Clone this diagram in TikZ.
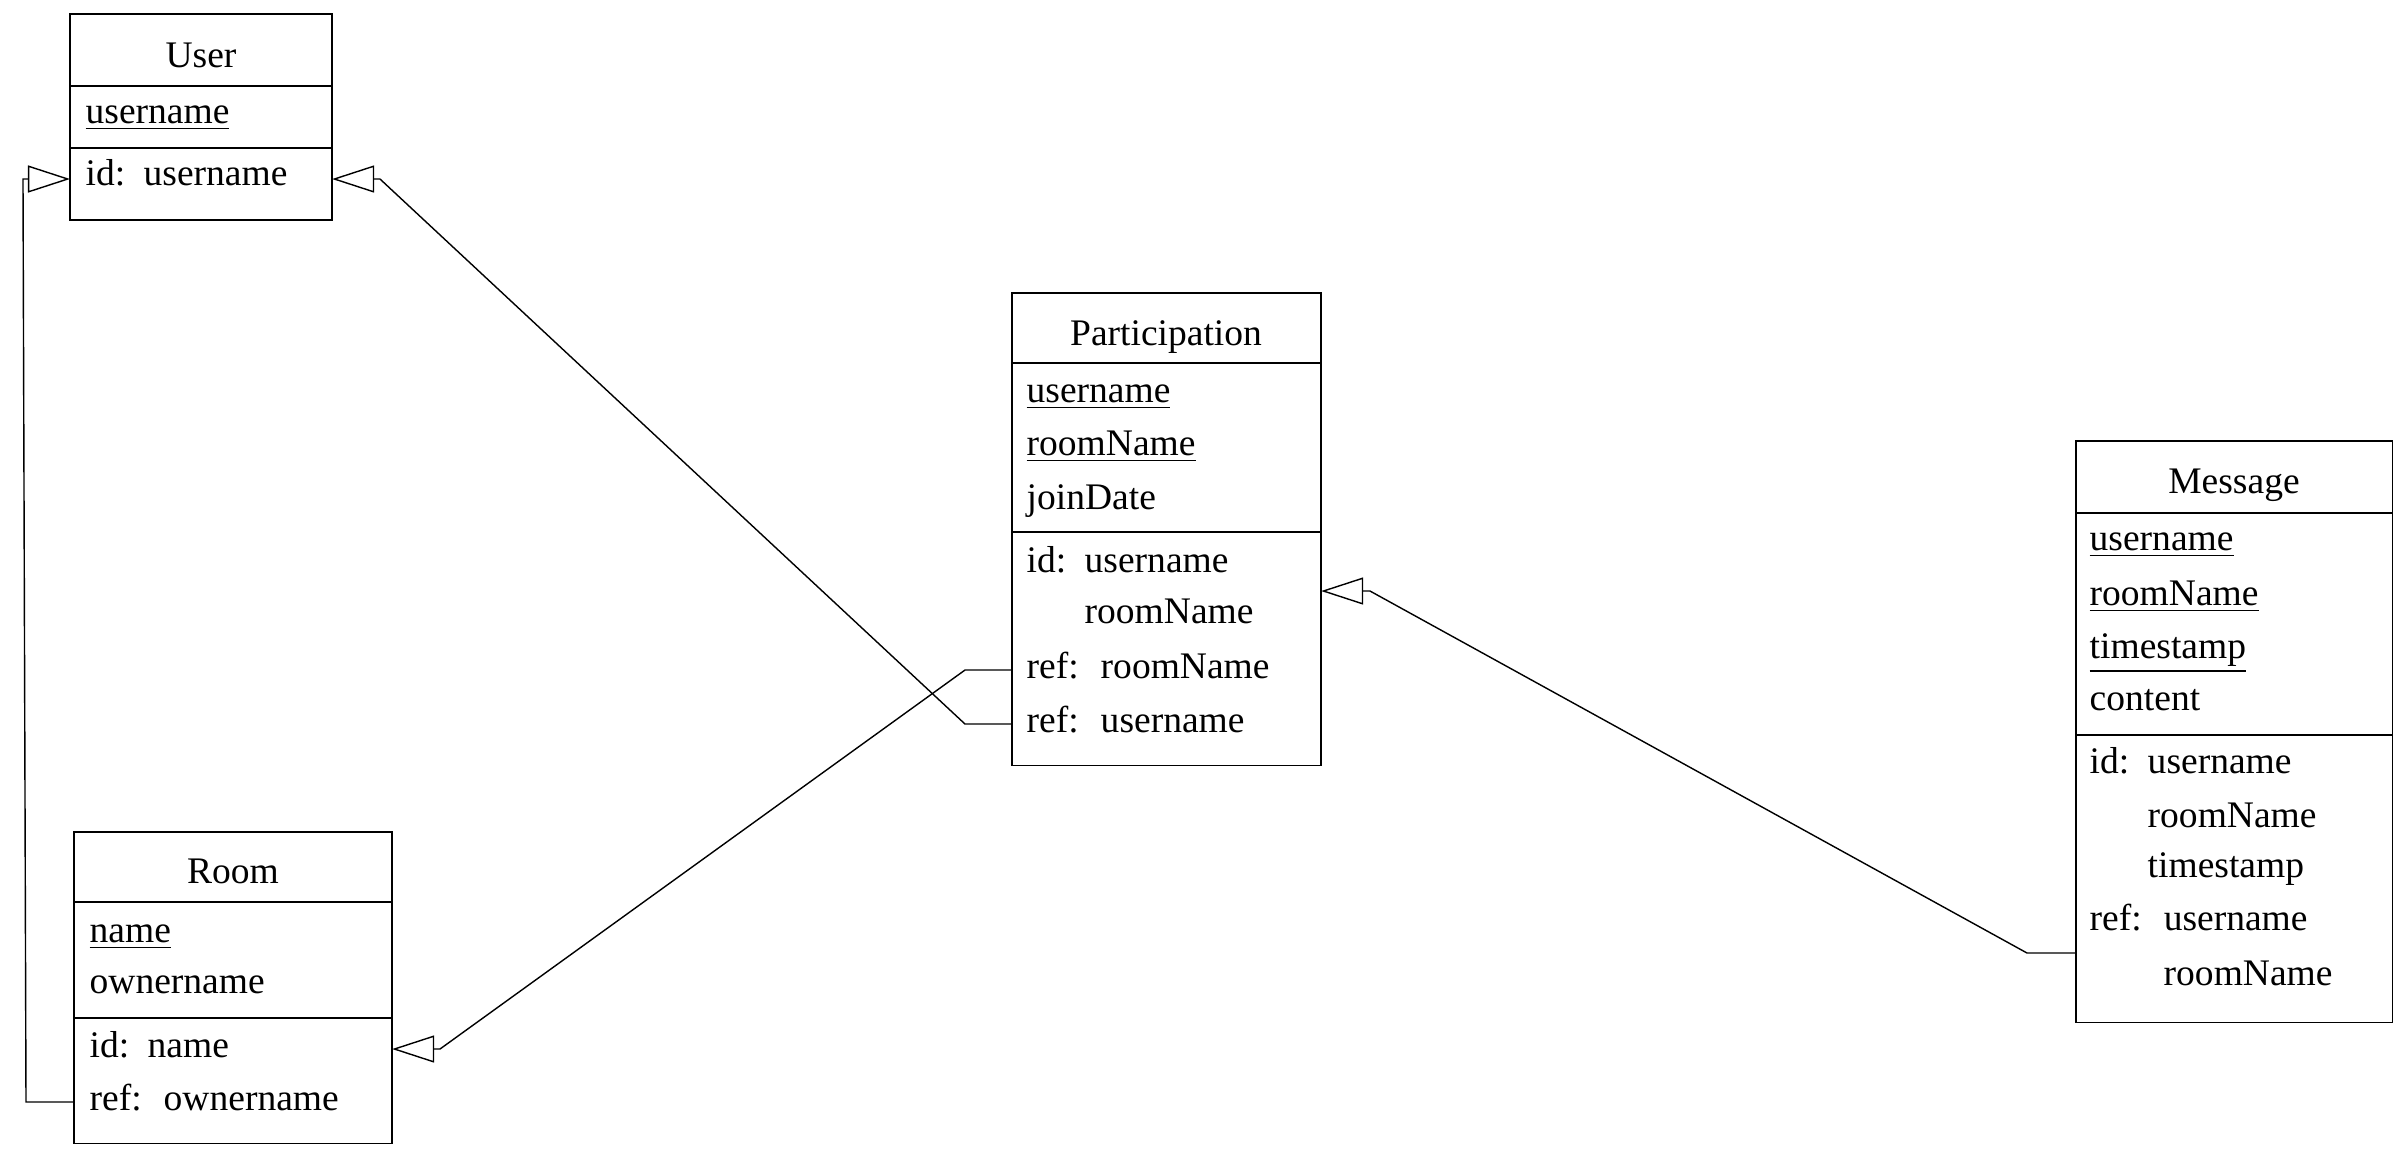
\documentclass[tikz,border=0pt]{standalone}
\usepackage{fontspec}
\setmainfont{Liberation Serif}
\usetikzlibrary{arrows.meta}
\newcommand{\idkey}{\makebox[0.58cm][l]{id:}}
\newcommand{\refkey}{\makebox[0.74cm][l]{ref:}}
\begin{document}
\begin{tikzpicture}[x=0.01cm,y=-0.01cm,
	tbl/.style={draw,anchor=north west,inner sep=0pt,outer sep=0pt},
	ttl/.style={anchor=base,inner sep=0pt,font=\fontsize{10.67pt}{12pt}\selectfont},
	lbl/.style={anchor=base west,inner sep=0pt,font=\fontsize{10.67pt}{12pt}\selectfont},
	fk/.style={-{Triangle[open,length=0.42cm,width=0.27cm]}}]
	\useasboundingbox (0,0) rectangle (2403,1150);
	% User
	\node[tbl,minimum width=2.62cm,minimum height=2.06cm] (user) at (70,14) {};
	\draw (user.west |- 0,86) -- (user.east |- 0,86);
	\draw (user.west |- 0,148) -- (user.east |- 0,148);
	\node[ttl] (usertitle) at (201,67) {User};
	\node[lbl] (u1) at (85,123) {\underline{username}};
	\node[lbl] (u2) at (85,185) {\idkey username};
	% Room
	\node[tbl,minimum width=3.18cm,minimum height=3.11cm] (room) at (74,832) {};
	\draw (room.west |- 0,902) -- (room.east |- 0,902);
	\draw (room.west |- 0,1018) -- (room.east |- 0,1018);
	\node[ttl] (roomtitle) at (233,883) {Room};
	\node[lbl] (r1) at (89,942) {\underline{name}};
	\node[lbl] (r2) at (89,993) {ownername};
	\node[lbl] (r3) at (89,1057) {\idkey name};
	\node[lbl] (r4) at (89,1110) {\refkey ownername};
	% Participation
	\node[tbl,minimum width=3.09cm,minimum height=4.72cm] (part) at (1012,293) {};
	\draw (part.west |- 0,363) -- (part.east |- 0,363);
	\draw (part.west |- 0,532) -- (part.east |- 0,532);
	\node[ttl] (parttitle) at (1166,345) {Participation};
	\node[lbl] (p1) at (1026,402) {\underline{username}};
	\node[lbl] (p2) at (1026,455) {\underline{roomName}};
	\node[lbl] (p3) at (1026,509) {joinDate};
	\node[lbl] (p4) at (1026,572) {\idkey username};
	\node[lbl] (p5) at (1084,623) {roomName};
	\node[lbl] (p6) at (1026,678) {\refkey roomName};
	\node[lbl] (p7) at (1026,732) {\refkey username};
	% Message
	\node[tbl,minimum width=3.16cm,minimum height=5.81cm] (msg) at (2076,441) {};
	\draw (msg.west |- 0,513) -- (msg.east |- 0,513);
	\draw (msg.west |- 0,735) -- (msg.east |- 0,735);
	\node[ttl] (msgtitle) at (2234,493) {Message};
	\node[lbl] (m1) at (2089,550) {\underline{username}};
	\node[lbl] (m2) at (2089,605) {\underline{roomName}};
	\node[lbl] (m3) at (2089,658) {\underline{timestamp}};
	\node[lbl] (m4) at (2089,710) {content};
	\node[lbl] (m5) at (2089,773) {\idkey username};
	\node[lbl] (m6) at (2147,827) {roomName};
	\node[lbl] (m7) at (2147,877) {timestamp};
	\node[lbl] (m8) at (2089,930) {\refkey username};
	\node[lbl] (m9) at (2163,985) {roomName};
	% references
	\draw[fk] (room.west |- 0,1102) -- (26,1102) -- (23,179) -- (user.west |- 0,179);
	\draw[fk] (part.west |- 0,724) -- (965,724) -- (380,179) -- (user.east |- 0,179);
	\draw[fk] (part.west |- 0,670) -- (965,670) -- (440,1049) -- (room.east |- 0,1049);
	\draw[fk] (msg.west |- 0,953) -- (2027,953) -- (1370,591) -- (part.east |- 0,591);
\end{tikzpicture}
\end{document}
